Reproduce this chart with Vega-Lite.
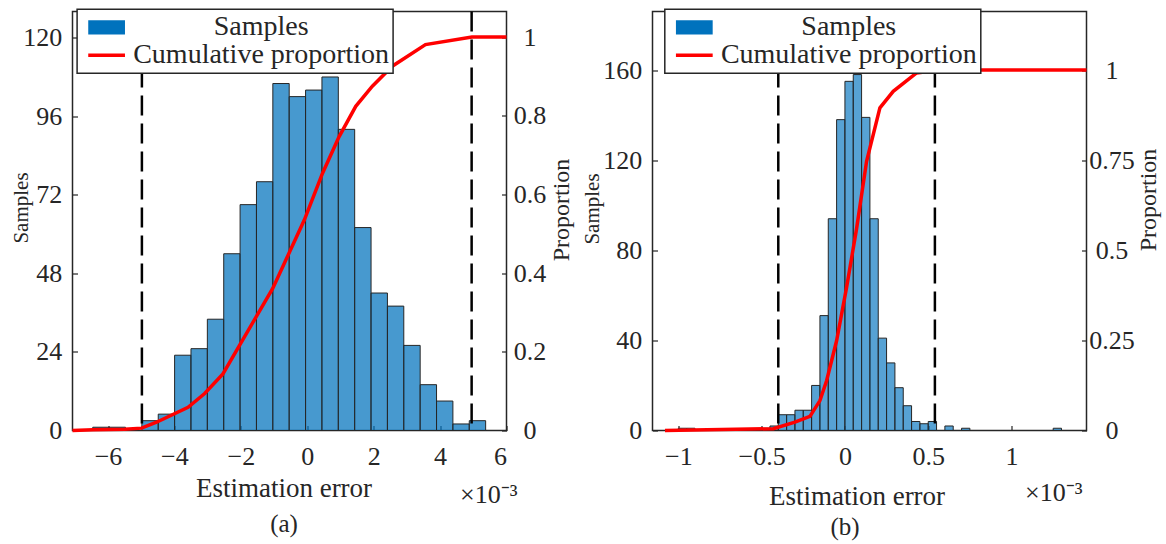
{
  "$schema": "https://vega.github.io/schema/vega-lite/v6.json",
  "padding": {"left": 9.5, "top": 7.5, "right": 0, "bottom": 0},
  "background": "white",
  "datasets": {
    "keys": [{"series": "Samples"}, {"series": "Cumulative proportion"}],
    "a_bins": [
      {"start": -6.460, "end": -5.967, "count": 1},
      {"start": -5.967, "end": -5.474, "count": 1},
      {"start": -4.981, "end": -4.488, "count": 3},
      {"start": -4.488, "end": -3.995, "count": 5},
      {"start": -3.995, "end": -3.502, "count": 23},
      {"start": -3.502, "end": -3.009, "count": 25},
      {"start": -3.009, "end": -2.516, "count": 34},
      {"start": -2.516, "end": -2.023, "count": 54},
      {"start": -2.023, "end": -1.530, "count": 69},
      {"start": -1.530, "end": -1.037, "count": 76},
      {"start": -1.037, "end": -0.544, "count": 106},
      {"start": -0.544, "end": -0.051, "count": 102},
      {"start": -0.051, "end": 0.442, "count": 104},
      {"start": 0.442, "end": 0.935, "count": 108},
      {"start": 0.935, "end": 1.428, "count": 92},
      {"start": 1.428, "end": 1.921, "count": 62},
      {"start": 1.921, "end": 2.414, "count": 42},
      {"start": 2.414, "end": 2.907, "count": 38},
      {"start": 2.907, "end": 3.400, "count": 26},
      {"start": 3.400, "end": 3.893, "count": 14},
      {"start": 3.893, "end": 4.386, "count": 9},
      {"start": 4.386, "end": 4.879, "count": 2},
      {"start": 4.879, "end": 5.372, "count": 3}
    ],
    "a_cdf": [
      {"err": -7.07, "p": 0},
      {"err": -6.45, "p": 0.002},
      {"err": -5.5, "p": 0.003},
      {"err": -4.99, "p": 0.006},
      {"err": -4.54, "p": 0.021},
      {"err": -3.59, "p": 0.059},
      {"err": -3.09, "p": 0.094},
      {"err": -2.54, "p": 0.144},
      {"err": -1.54, "p": 0.289},
      {"err": -1.04, "p": 0.361},
      {"err": -0.09, "p": 0.535},
      {"err": 0.46, "p": 0.654},
      {"err": 0.96, "p": 0.747},
      {"err": 1.46, "p": 0.824},
      {"err": 1.96, "p": 0.875},
      {"err": 2.56, "p": 0.926},
      {"err": 3.56, "p": 0.981},
      {"err": 4.96, "p": 1.0},
      {"err": 6.0, "p": 1.0}
    ],
    "a_thr": [{"thr": -4.98}, {"thr": 4.95}],
    "b_bins": [
      {"start": -1.0, "end": -0.95, "count": 1},
      {"start": -0.95, "end": -0.9, "count": 1},
      {"start": -0.5, "end": -0.45, "count": 1},
      {"start": -0.45, "end": -0.4, "count": 2},
      {"start": -0.4, "end": -0.35, "count": 7},
      {"start": -0.35, "end": -0.3, "count": 7},
      {"start": -0.3, "end": -0.25, "count": 9},
      {"start": -0.25, "end": -0.2, "count": 9},
      {"start": -0.2, "end": -0.15, "count": 20},
      {"start": -0.15, "end": -0.1, "count": 51},
      {"start": -0.1, "end": -0.05, "count": 94},
      {"start": -0.05, "end": 0.0, "count": 138},
      {"start": 0.0, "end": 0.05, "count": 155},
      {"start": 0.05, "end": 0.1, "count": 158},
      {"start": 0.1, "end": 0.15, "count": 139},
      {"start": 0.15, "end": 0.2, "count": 94},
      {"start": 0.2, "end": 0.25, "count": 41},
      {"start": 0.25, "end": 0.3, "count": 30},
      {"start": 0.3, "end": 0.35, "count": 19},
      {"start": 0.35, "end": 0.4, "count": 11},
      {"start": 0.4, "end": 0.45, "count": 4},
      {"start": 0.45, "end": 0.5, "count": 3},
      {"start": 0.5, "end": 0.55, "count": 4},
      {"start": 0.6, "end": 0.65, "count": 2},
      {"start": 0.7, "end": 0.75, "count": 1},
      {"start": 1.25, "end": 1.3, "count": 1}
    ],
    "b_cdf": [
      {"err": -1.08, "p": 0},
      {"err": -0.43, "p": 0.005},
      {"err": -0.3, "p": 0.023},
      {"err": -0.21, "p": 0.039},
      {"err": -0.15, "p": 0.083},
      {"err": -0.11, "p": 0.138},
      {"err": -0.05, "p": 0.249},
      {"err": 0.01, "p": 0.397},
      {"err": 0.07, "p": 0.56},
      {"err": 0.13, "p": 0.747},
      {"err": 0.21, "p": 0.895},
      {"err": 0.29, "p": 0.941},
      {"err": 0.43, "p": 0.992},
      {"err": 0.57, "p": 1.0},
      {"err": 1.45, "p": 1.0}
    ],
    "b_thr": [{"thr": -0.4}, {"thr": 0.54}]
  },
  "hconcat": [
    {
      "width": 434,
      "height": 419,
      "layer": [
        {
          "data": {"name": "a_bins"},
          "mark": {"type": "bar", "color": "#0072BD", "fillOpacity": 0.72, "stroke": "#262626", "strokeWidth": 1},
          "encoding": {
            "x": {"field": "start", "type": "quantitative",
              "scale": {"domain": [-7.07, 6.0], "nice": false, "zero": false},
              "axis": {"orient": "bottom", "values": [-6, -4, -2, 0, 2, 4, 6], "format": "d", "offset": -5, "labelPadding": 12.5,
                "title": "Estimation error", "titleFontSize": 27, "titleX": 211, "titleY": 63,
                "titleAlign": "center", "titleBaseline": "middle", "titleAnchor": null}},
            "x2": {"field": "end"},
            "y": {"field": "count", "type": "quantitative",
              "scale": {"domain": [0, 128], "nice": false},
              "axis": {"orient": "left", "values": [0, 24, 48, 72, 96, 120], "format": "d", "offset": -5, "labelPadding": 10.7,
                "title": "Samples", "titleFontSize": 21, "titleAngle": 270, "titleX": -56, "titleY": 196,
                "titleAlign": "center", "titleBaseline": "middle", "titleAnchor": null}},
            "y2": {"datum": 0}
          }
        },
        {
          "data": {"name": "a_thr"},
          "mark": {"type": "rule", "color": "black", "strokeWidth": 2.5, "strokeDash": [20, 8]},
          "encoding": {
            "x": {"field": "thr", "type": "quantitative",
              "scale": {"domain": [-7.07, 6.0], "nice": false, "zero": false},
              "axis": {"orient": "bottom", "labels": false, "ticks": false, "domain": false,
                "title": "×10⁻³", "titleFontSize": 26, "titleX": 387, "titleY": 64,
                "titleAlign": "left", "titleBaseline": "middle", "titleAnchor": null}}
          }
        },
        {
          "data": {"name": "a_cdf"},
          "mark": {"type": "line", "color": "#FF0000", "strokeWidth": 3.5},
          "encoding": {
            "x": {"field": "err", "type": "quantitative",
              "scale": {"domain": [-7.07, 6.0], "nice": false, "zero": false},
              "axis": {"orient": "bottom", "labels": false, "ticks": false, "domain": false,
                "title": "(a)", "titleFontSize": 25, "titleX": 211, "titleY": 93,
                "titleAlign": "center", "titleBaseline": "middle", "titleAnchor": null}},
            "y": {"field": "p", "type": "quantitative",
              "scale": {"domain": [0, 1.065], "nice": false},
              "axis": {"orient": "right", "values": [0, 0.2, 0.4, 0.6, 0.8, 1], "labelExpr": "'' + datum.value", "offset": -5,
                "labelAlign": "center", "labelPadding": 23,
                "title": "Proportion", "titleFontSize": 24, "titleAngle": 270, "titleX": 60, "titleY": 198,
                "titleAlign": "center", "titleBaseline": "middle", "titleAnchor": null}}
          }
        },
        {
          "data": {"name": "keys"},
          "mark": {"type": "point", "filled": true, "opacity": 0},
          "encoding": {
            "color": {"field": "series", "type": "nominal",
              "scale": {"domain": ["Samples", "Cumulative proportion"], "range": ["#0072BD", "#FF0000"]},
              "legend": {"orient": "none", "legendX": 4.6, "legendY": -2.2, "title": null,
                "direction": "vertical", "strokeColor": "#262626", "fillColor": "white", "padding": 4,
                "symbolSize": 600, "symbolStrokeWidth": 0, "symbolOpacity": 1,
                "labelFont": "Liberation Serif", "labelFontSize": 28, "labelOffset": 152, "labelAlign": "center", "rowPadding": -7, "labelLimit": 400}},
            "shape": {"field": "series", "type": "nominal",
              "scale": {"domain": ["Samples", "Cumulative proportion"], "range": ["M-0.56,-0.58H2.44V0.58H-0.56Z", "M-0.56,-0.14H2.44V0.14H-0.56Z"]},
              "legend": {"orient": "none", "legendX": 4.6, "legendY": -2.2, "title": null,
                "direction": "vertical", "strokeColor": "#262626", "fillColor": "white", "padding": 4,
                "symbolSize": 600, "symbolStrokeWidth": 0, "symbolOpacity": 1,
                "labelFont": "Liberation Serif", "labelFontSize": 28, "labelOffset": 152, "labelAlign": "center", "rowPadding": -7, "labelLimit": 400}}
          }
        }
      ],
      "resolve": {"scale": {"y": "independent"}, "axis": {"x": "independent"}}
    },
    {
      "width": 434,
      "height": 419,
      "layer": [
        {
          "data": {"name": "b_bins"},
          "mark": {"type": "bar", "color": "#0072BD", "fillOpacity": 0.66, "stroke": "#262626", "strokeWidth": 1},
          "encoding": {
            "x": {"field": "start", "type": "quantitative",
              "scale": {"domain": [-1.155, 1.45], "nice": false, "zero": false},
              "axis": {"orient": "bottom", "values": [-1, -0.5, 0, 0.5, 1], "labelExpr": "replace('' + datum.value, '-', '−')", "offset": -5, "labelPadding": 12.5,
                "title": "Estimation error", "titleFontSize": 27, "titleX": 204, "titleY": 71,
                "titleAlign": "center", "titleBaseline": "middle", "titleAnchor": null}},
            "x2": {"field": "end"},
            "y": {"field": "count", "type": "quantitative",
              "scale": {"domain": [0, 186], "nice": false},
              "axis": {"orient": "left", "values": [0, 40, 80, 120, 160], "format": "d", "offset": -5, "labelPadding": 10.7,
                "title": "Samples", "titleFontSize": 21, "titleAngle": 270, "titleX": -65, "titleY": 197,
                "titleAlign": "center", "titleBaseline": "middle", "titleAnchor": null}},
            "y2": {"datum": 0}
          }
        },
        {
          "data": {"name": "b_thr"},
          "mark": {"type": "rule", "color": "black", "strokeWidth": 2.5, "strokeDash": [20, 8]},
          "encoding": {
            "x": {"field": "thr", "type": "quantitative",
              "scale": {"domain": [-1.155, 1.45], "nice": false, "zero": false},
              "axis": {"orient": "bottom", "labels": false, "ticks": false, "domain": false,
                "title": "×10⁻³", "titleFontSize": 26, "titleX": 372, "titleY": 62,
                "titleAlign": "left", "titleBaseline": "middle", "titleAnchor": null}}
          }
        },
        {
          "data": {"name": "b_cdf"},
          "mark": {"type": "line", "color": "#FF0000", "strokeWidth": 3.5},
          "encoding": {
            "x": {"field": "err", "type": "quantitative",
              "scale": {"domain": [-1.155, 1.45], "nice": false, "zero": false},
              "axis": {"orient": "bottom", "labels": false, "ticks": false, "domain": false,
                "title": "(b)", "titleFontSize": 25, "titleX": 192, "titleY": 96,
                "titleAlign": "center", "titleBaseline": "middle", "titleAnchor": null}},
            "y": {"field": "p", "type": "quantitative",
              "scale": {"domain": [0, 1.1625], "nice": false},
              "axis": {"orient": "right", "values": [0, 0.25, 0.5, 0.75, 1], "labelExpr": "'' + datum.value", "offset": -5,
                "labelAlign": "center", "labelPadding": 25,
                "title": "Proportion", "titleFontSize": 24, "titleAngle": 270, "titleX": 67, "titleY": 188,
                "titleAlign": "center", "titleBaseline": "middle", "titleAnchor": null}}
          }
        },
        {
          "data": {"name": "keys"},
          "mark": {"type": "point", "filled": true, "opacity": 0},
          "encoding": {
            "color": {"field": "series", "type": "nominal",
              "scale": {"domain": ["Samples", "Cumulative proportion"], "range": ["#0072BD", "#FF0000"]},
              "legend": {"orient": "none", "legendX": 12.3, "legendY": -2.2, "title": null,
                "direction": "vertical", "strokeColor": "#262626", "fillColor": "white", "padding": 4,
                "symbolSize": 600, "symbolStrokeWidth": 0, "symbolOpacity": 1,
                "labelFont": "Liberation Serif", "labelFontSize": 28, "labelOffset": 152, "labelAlign": "center", "rowPadding": -7, "labelLimit": 400}},
            "shape": {"field": "series", "type": "nominal",
              "scale": {"domain": ["Samples", "Cumulative proportion"], "range": ["M-0.56,-0.58H2.44V0.58H-0.56Z", "M-0.56,-0.14H2.44V0.14H-0.56Z"]},
              "legend": {"orient": "none", "legendX": 12.3, "legendY": -2.2, "title": null,
                "direction": "vertical", "strokeColor": "#262626", "fillColor": "white", "padding": 4,
                "symbolSize": 600, "symbolStrokeWidth": 0, "symbolOpacity": 1,
                "labelFont": "Liberation Serif", "labelFontSize": 28, "labelOffset": 152, "labelAlign": "center", "rowPadding": -7, "labelLimit": 400}}
          }
        }
      ],
      "resolve": {"scale": {"y": "independent"}, "axis": {"x": "independent"}}
    }
  ],
  "spacing": 146,
  "bounds": "flush",
  "resolve": {"scale": {"color": "independent", "shape": "independent"}, "legend": {"color": "independent", "shape": "independent"}},
  "config": {
    "font": "Liberation Serif",
    "view": {"stroke": "#262626", "strokeWidth": 1.5},
    "axis": {"grid": false, "domain": false, "ticks": true, "tickSize": 5, "tickWidth": 1.2, "tickColor": "#262626",
      "labelFont": "Liberation Serif", "titleFont": "Liberation Serif",
      "labelFontSize": 26, "labelColor": "#262626", "titleColor": "#262626", "titleFontWeight": "normal"},
    "legend": {"labelFont": "Liberation Serif", "labelColor": "#262626", "strokeWidth": 1.5, "rowPadding": -7, "padding": 4}
  }
}
